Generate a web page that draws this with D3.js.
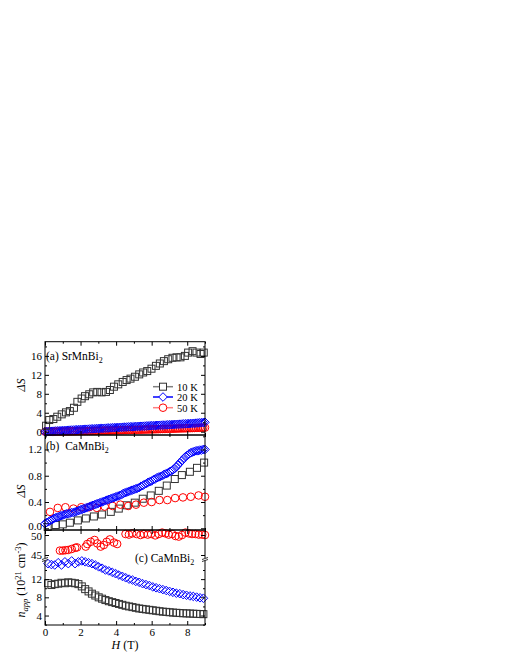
<!DOCTYPE html>
<html lang="en">
<head>
<script src="https://d3js.org/d3.v7.min.js"></script>
<style>
  body { margin: 0; background: #fff; }
  svg text { font-family: "Liberation Serif", "Times New Roman", serif; fill: #000; }
  .tick text { font-size: 11px; }
</style>
</head>
<body>
<script>
// ---- data ----
// panel (a) SrMnBi2
var hA10 = [0.06,0.24,0.47,0.69,0.94,1.18,1.40,1.63,1.82,2.06,2.25,2.49,2.71,2.94,3.18,3.43,3.65,3.88,4.12,4.37,4.59,4.81,5.06,5.30,5.52,5.75,5.99,6.24,6.46,6.69,6.93,7.17,7.40,7.62,7.87,8.05,8.30,8.52,8.75,8.93];
var dsA10 = [1.26,2.46,2.67,3.16,3.66,4.08,4.35,5.05,6.3,7.0,7.5,7.9,8.3,8.4,8.3,8.4,8.8,9.5,10.0,10.5,10.9,11.2,11.6,12.1,12.5,12.8,13.3,13.9,14.4,14.9,15.3,15.6,15.7,15.7,16.0,16.7,17.0,16.7,16.4,16.7];
var hFine = [0.0,0.1,0.2,0.3,0.4,0.5,0.6,0.7,0.8,0.9,
  1.0,1.1,1.2,1.3,1.4,1.5,1.6,1.7,1.8,1.9,
  2.0,2.1,2.2,2.3,2.4,2.5,2.6,2.7,2.8,2.9,
  3.0,3.1,3.2,3.3,3.4,3.5,3.6,3.7,3.8,3.9,
  4.0,4.1,4.2,4.3,4.4,4.5,4.6,4.7,4.8,4.9,
  5.0,5.1,5.2,5.3,5.4,5.5,5.6,5.7,5.8,5.9,
  6.0,6.1,6.2,6.3,6.4,6.5,6.6,6.7,6.8,6.9,
  7.0,7.1,7.2,7.3,7.4,7.5,7.6,7.7,7.8,7.9,
  8.0,8.1,8.2,8.3,8.4,8.5,8.6,8.7,8.8,8.9,
  9.0];
var dsA20 = [0.00,0.02,0.04,0.07,0.10,0.12,0.15,0.17,0.19,0.21,
  0.23,0.26,0.28,0.30,0.33,0.35,0.36,0.39,0.41,0.44,
  0.46,0.48,0.50,0.51,0.53,0.56,0.58,0.60,0.62,0.65,
  0.67,0.68,0.70,0.72,0.74,0.77,0.79,0.81,0.83,0.85,
  0.87,0.88,0.90,0.93,0.95,0.97,0.99,1.01,1.03,1.04,
  1.06,1.09,1.11,1.13,1.15,1.16,1.18,1.21,1.23,1.25,
  1.27,1.28,1.30,1.33,1.35,1.37,1.39,1.40,1.42,1.45,
  1.47,1.49,1.51,1.53,1.55,1.57,1.59,1.62,1.64,1.66,
  1.68,1.70,1.73,1.75,1.78,1.81,1.84,1.87,1.90,1.94,
  1.98];
var dsA50 = [0.00,0.00,0.00,0.01,0.01,0.02,0.02,0.03,0.03,0.04,
  0.04,0.05,0.06,0.06,0.07,0.08,0.09,0.09,0.10,0.11,
  0.12,0.12,0.13,0.14,0.15,0.16,0.17,0.17,0.18,0.19,
  0.20,0.21,0.22,0.23,0.24,0.24,0.25,0.26,0.27,0.28,
  0.29,0.30,0.31,0.32,0.33,0.34,0.35,0.36,0.37,0.38,
  0.39,0.40,0.41,0.42,0.43,0.44,0.45,0.46,0.47,0.48,
  0.50,0.51,0.52,0.53,0.54,0.56,0.57,0.58,0.59,0.60,
  0.61,0.63,0.64,0.65,0.66,0.68,0.69,0.70,0.71,0.72,
  0.73,0.75,0.76,0.77,0.78,0.80,0.81,0.82,0.84,0.85,
  0.86];

// panel (b) CaMnBi2
var hB10 = [0.15,0.60,1.00,1.40,1.85,2.30,2.75,3.20,3.70,4.15,4.60,5.05,5.50,5.95,6.40,6.85,7.30,7.70,8.15,8.55,8.95];
var dsB10 = [0.02,0.05,0.06,0.085,0.12,0.15,0.18,0.21,0.25,0.30,0.35,0.39,0.45,0.50,0.57,0.65,0.75,0.81,0.86,0.92,1.00];
var dsB20 = [0.07,0.09,0.10,0.12,0.13,0.15,0.16,0.17,0.18,0.19,
  0.20,0.21,0.22,0.22,0.23,0.24,0.24,0.25,0.26,0.27,
  0.28,0.29,0.30,0.31,0.32,0.33,0.34,0.35,0.36,0.37,
  0.38,0.39,0.40,0.41,0.42,0.43,0.44,0.45,0.46,0.47,
  0.48,0.49,0.50,0.51,0.53,0.54,0.55,0.56,0.57,0.58,
  0.59,0.60,0.61,0.62,0.64,0.65,0.67,0.68,0.70,0.71,
  0.72,0.74,0.75,0.77,0.78,0.79,0.80,0.82,0.83,0.84,
  0.86,0.87,0.89,0.91,0.94,0.97,1.00,1.03,1.06,1.09,
  1.11,1.13,1.15,1.16,1.17,1.18,1.18,1.19,1.19,1.20,
  1.20];
var hB50 = [0.28,0.72,1.15,1.60,2.04,2.48,2.92,3.36,3.80,4.24,4.68,5.12,5.56,6.00,6.44,6.88,7.32,7.76,8.20,8.64,9.00];
var dsB50 = [0.25,0.31,0.32,0.30,0.32,0.32,0.31,0.33,0.34,0.36,0.34,0.36,0.39,0.40,0.43,0.43,0.46,0.47,0.48,0.50,0.48];

// panel (c) CaMnBi2, n_app in 1e21 cm^-3
var hC = [0.17,0.36,0.55,0.74,0.93,1.12,1.31,1.50,1.69,1.88,2.07,2.26,2.45,2.64,2.83,3.02,3.21,3.40,3.59,3.78,3.97,4.16,4.35,4.54,4.73,4.92,5.11,5.30,5.49,5.68,5.87,6.06,6.25,6.44,6.63,6.82,7.01,7.20,7.39,7.58,7.77,7.96,8.15,8.34,8.53,8.72,8.91];
var nC10 = [11.1,10.7,10.9,11.0,11.2,11.1,11.3,11.2,11.1,10.9,10.4,9.8,9.3,8.8,8.4,8.0,7.7,7.4,7.15,6.95,6.75,6.55,6.35,6.15,6.0,5.85,5.7,5.55,5.45,5.35,5.25,5.15,5.05,4.95,4.85,4.8,4.72,4.65,4.6,4.55,4.5,4.47,4.44,4.4,4.37,4.33,4.3];
var nC20 = [15.4,15.2,15.1,15.6,15.1,15.8,15.4,16.0,15.4,15.8,16.0,15.8,15.6,15.4,15.1,14.7,14.4,14.0,13.8,13.5,13.2,12.9,12.6,12.3,12.0,11.8,11.5,11.3,11.0,10.8,10.6,10.3,10.1,9.9,9.7,9.5,9.3,9.1,8.9,8.8,8.6,8.45,8.3,8.2,8.05,7.9,7.8];
var hC50 = [0.84,1.00,1.15,1.30,1.50,1.70,1.80,2.29,2.38,2.57,2.79,2.94,3.13,3.31,3.47,3.65,3.88,4.06,4.53,4.72,4.90,5.15,5.37,5.56,5.78,5.97,6.20,6.40,6.59,6.78,6.96,7.15,7.34,7.52,7.71,7.90,8.09,8.27,8.46,8.65,8.84,9.00];
var nC50 = [46.1,46.1,46.2,46.25,46.5,46.8,46.9,47.1,47.75,48.3,48.75,47.9,47.1,47.5,48.3,48.9,48.1,47.75,50.25,50.1,50.4,50.25,50.0,50.25,50.1,50.25,49.9,50.25,50.6,50.4,50.1,50.25,49.75,49.6,50.0,50.6,50.4,50.25,50.25,50.1,50.1,50.0];

var xTicks = [0,2,4,6,8];
var xMinor = [1,3,5,7,9];
var legendLabels = ["10 K","20 K","50 K"];

// ---- drawing ----
var svg = d3.select("body").append("svg").attr("width",510).attr("height",660);

var x = d3.scaleLinear().domain([0,9]).range([45,205]);
var yA = d3.scaleLinear().domain([-0.7,19]).range([435,341.7]);
var yB = d3.scaleLinear().domain([-0.026,1.42]).range([530,435]);
var yCl = d3.scaleLinear().domain([1.92,16.2]).range([625,560]);
var yCu = d3.scaleLinear().domain([43.75,51.25]).range([560,530]);

var col10 = "#333", col20 = "#0000ff", col50 = "#ff0000";

function zip(a,b){ return a.map(function(v,i){ return [v,b[i]]; }); }

function squares(data, y, c){
  svg.append("g").selectAll("rect").data(data).enter().append("rect")
    .attr("x", function(d){ return x(d[0]) - 3.5; })
    .attr("y", function(d){ return y(d[1]) - 3.5; })
    .attr("width",7).attr("height",7)
    .attr("fill","none").attr("stroke",c).attr("stroke-width",1);
}
function circles(data, y, c){
  svg.append("g").selectAll("circle").data(data).enter().append("circle")
    .attr("cx", function(d){ return x(d[0]); })
    .attr("cy", function(d){ return y(d[1]); })
    .attr("r",3.8)
    .attr("fill","none").attr("stroke",c).attr("stroke-width",1);
}
var diamondPath = "M0,-4.3L4.3,0L0,4.3L-4.3,0Z";
function diamonds(data, y, c){
  svg.append("g").selectAll("path").data(data).enter().append("path")
    .attr("d", diamondPath)
    .attr("transform", function(d){ return "translate(" + x(d[0]) + "," + y(d[1]) + ")"; })
    .attr("fill","none").attr("stroke",c).attr("stroke-width",1);
}

// panel a
circles(zip(hFine, dsA50), yA, col50);
diamonds(zip(hFine, dsA20), yA, col20);
squares(zip(hA10, dsA10), yA, col10);
// panel b
squares(zip(hB10, dsB10), yB, col10);
circles(zip(hB50, dsB50), yB, col50);
diamonds(zip(hFine, dsB20), yB, col20);
// panel c
circles(zip(hC50, nC50), yCu, col50);
diamonds(zip(hC, nC20), yCl, col20);
squares(zip(hC, nC10), yCl, col10);

// axes
function yAxes(y, major, minor, fmt, x0, x1){
  var g = svg.append("g").attr("transform","translate(" + x0 + ",0)")
    .call(d3.axisLeft(y).tickValues(major).tickSize(-4).tickPadding(3).tickFormat(fmt));
  g.select(".domain").remove();
  var gm = svg.append("g").attr("transform","translate(" + x0 + ",0)")
    .call(d3.axisLeft(y).tickValues(minor).tickSize(-2).tickFormat(""));
  gm.select(".domain").remove();
  var r = svg.append("g").attr("transform","translate(" + x1 + ",0)")
    .call(d3.axisRight(y).tickValues(major).tickSize(-4).tickFormat(""));
  r.select(".domain").remove();
  var rm = svg.append("g").attr("transform","translate(" + x1 + ",0)")
    .call(d3.axisRight(y).tickValues(minor).tickSize(-2).tickFormat(""));
  rm.select(".domain").remove();
  return g;
}
yAxes(yA, [0,4,8,12,16], [2,6,10,14,18], d3.format("d"), 45, 205);
var gB = yAxes(yB, [0,0.4,0.8,1.2], [0.2,0.6,1.0,1.4], d3.format(".1f"), 45, 205);
// lift the 0.0 label a little so it clears the 50 of panel (c)
gB.selectAll(".tick text").filter(function(d){ return d === 0; }).attr("dy","0.1em");
yAxes(yCl, [4,8,12], [2,6,10,14], d3.format("d"), 45, 205);
yAxes(yCu, [45,50], [], d3.format("d"), 45, 205)
  .selectAll(".tick text").filter(function(d){ return d === 50; }).attr("dy","0.45em");

function xAxes(top, bottom, labels){
  [[top, d3.axisTop, 1],[bottom, d3.axisBottom, 0]].forEach(function(s){
    var g = svg.append("g").attr("transform","translate(0," + s[0] + ")")
      .call(s[1](x).tickValues(xTicks).tickSize(-4).tickPadding(3)
        .tickFormat(labels && !s[2] ? d3.format("d") : ""));
    g.select(".domain").remove();
    var gm = svg.append("g").attr("transform","translate(0," + s[0] + ")")
      .call(s[1](x).tickValues(xMinor).tickSize(-2).tickFormat(""));
    gm.select(".domain").remove();
  });
}
xAxes(341.7, 435, false);
xAxes(435, 530, false);
xAxes(530, 625, true);

// frames
[[341.7,435],[435,530],[530,625]].forEach(function(p){
  svg.append("rect").attr("x",45).attr("y",p[0]).attr("width",160).attr("height",p[1]-p[0])
    .attr("fill","none").attr("stroke","#000").attr("stroke-width",1);
});

// axis breaks in panel c
[45,205].forEach(function(bx){
  var yb = 559;
  svg.append("rect").attr("x",bx-1.5).attr("y",yb-1).attr("width",3).attr("height",2.5).attr("fill","#fff");
  svg.append("line").attr("x1",bx-3).attr("y1",yb+0.5).attr("x2",bx+3).attr("y2",yb-1.5).attr("stroke","#000").attr("stroke-width",0.8);
  svg.append("line").attr("x1",bx-3).attr("y1",yb+2.5).attr("x2",bx+3).attr("y2",yb+0.5).attr("stroke","#000").attr("stroke-width",0.8);
});

// panel labels
function panelLabel(px, py, pre){
  var t = svg.append("text").attr("x",px).attr("y",py).attr("font-size",11.5);
  t.append("tspan").text(pre);
  t.append("tspan").attr("dy",3).attr("font-size",8).text("2");
}
panelLabel(46, 360, "(a) SrMnBi");
panelLabel(46, 450, "(b)\u00a0 CaMnBi");
panelLabel(135, 562, "(c) CaMnBi");

// legend
var legY = [386.7, 397, 407.7];
var legLine = ["#808080", col20, "#ff8080"];
legendLabels.forEach(function(l,i){
  svg.append("line").attr("x1",153).attr("x2",173).attr("y1",legY[i]).attr("y2",legY[i])
    .attr("stroke",legLine[i]).attr("stroke-width",1.5);
  var c = [col10,col20,col50][i];
  if (i == 0) svg.append("rect").attr("x",159.5).attr("y",legY[i]-3.5).attr("width",7).attr("height",7)
      .attr("fill","#fff").attr("stroke",c);
  if (i == 1) svg.append("path").attr("d",diamondPath).attr("transform","translate(163," + legY[i] + ")")
      .attr("fill","#fff").attr("stroke",c);
  if (i == 2) svg.append("circle").attr("cx",163).attr("cy",legY[i]).attr("r",3.8)
      .attr("fill","#fff").attr("stroke",c);
  svg.append("text").attr("x",177).attr("y",legY[i]+3.8).attr("font-size",10.5).text(l);
});

// axis titles
function dsLabel(cy){
  svg.append("text").attr("transform","translate(25," + cy + ") rotate(-90)")
    .attr("text-anchor","middle").attr("font-size",12).attr("font-style","italic").text("\u0394S");
}
dsLabel(385);
dsLabel(491);

var nl = svg.append("text").attr("transform","translate(25,580) rotate(-90)")
  .attr("text-anchor","middle").attr("font-size",12);
nl.append("tspan").attr("font-style","italic").text("n");
nl.append("tspan").attr("font-style","italic").attr("font-size",8.5).attr("dy",3).text("app");
nl.append("tspan").attr("dy",-3).text(" (10");
nl.append("tspan").attr("font-size",8.5).attr("dy",-4).text("21");
nl.append("tspan").attr("dy",4).text(" cm");
nl.append("tspan").attr("font-size",8.5).attr("dy",-4).text("-3");
nl.append("tspan").attr("dy",4).text(")");

var xl = svg.append("text").attr("x",125).attr("y",649).attr("text-anchor","middle").attr("font-size",12);
xl.append("tspan").attr("font-style","italic").text("H");
xl.append("tspan").text(" (T)");
</script>
</body>
</html>
